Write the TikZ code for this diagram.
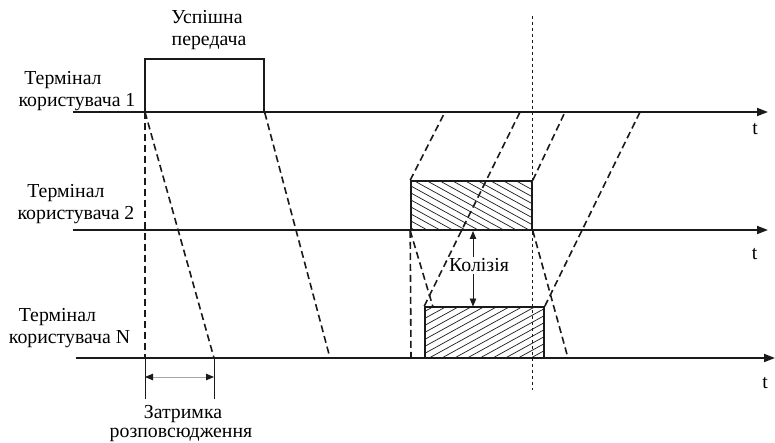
\documentclass[tikz,border=0pt]{standalone}
\usepackage{fontspec}
\setmainfont{Liberation Serif}
\usetikzlibrary{arrows.meta}
\definecolor{ink}{HTML}{1A1A1A}
\tikzset{ktip/.tip={Triangle[length=8pt,width=6.5pt,color=ink]}}
\begin{document}
\begin{tikzpicture}[x=1pt,y=-1pt,
  lbl/.style={font=\fontsize{19.8}{22}\selectfont, inner sep=0pt, anchor=base, text=black},
  axis/.style={draw=ink, line width=1.7pt, -{Triangle[length=11pt,width=8pt]}},
  wave/.style={draw=ink, line width=1.6pt, dash pattern=on 7pt off 4pt},
  frame/.style={draw=ink, line width=1.6pt, inner sep=0pt},
  hatch/.style={draw=ink, line width=0.7pt},
  thin/.style={draw=ink, line width=0.9pt},
  guide/.style={draw=ink, line width=0.7pt, dash pattern=on 3pt off 3pt}
]
\useasboundingbox (0,0) rectangle (775,443);

% axes
\coordinate (a1s) at (73,112);  \coordinate (a1e) at (768,112);
\coordinate (a2s) at (73,230);  \coordinate (a2e) at (768,230);
\coordinate (a3s) at (76,358);  \coordinate (a3e) at (775,358);
\draw[axis] (a1s) -- (a1e);
\draw[axis] (a2s) -- (a2e);
\draw[axis] (a3s) -- (a3e);

% hatching
\begin{scope}
  \clip (411,181) rectangle (532,230);
  \foreach \c in {-117,-110,...,10}
    \draw[hatch] (400,{\c+220}) -- (545,{\c+299.75});
\end{scope}
\begin{scope}
  \clip (425,307) rectangle (544,358);
  \foreach \c in {538,545,...,664}
    \draw[hatch] (415,{\c-228.25}) -- (555,{\c-305.25});
\end{scope}

% boxes
\node[frame, minimum width=119pt, minimum height=53pt] (succ) at (204.5,85.5) {};
\node[frame, minimum width=121pt, minimum height=49pt] (box2) at (471.5,205.5) {};
\node[frame, minimum width=119pt, minimum height=51pt] (boxN) at (484.5,332.5) {};

% coordinates for wave ends
\coordinate (s1) at (145,112);
\coordinate (p1) at (145,358);
\coordinate (p2) at (214,358);
\coordinate (p3) at (330,358);
\coordinate (q1) at (445,112);
\coordinate (q2) at (565,112);
\coordinate (q3) at (411,358);
\coordinate (q4) at (433,307);
\coordinate (q5) at (568,358);
\coordinate (r1) at (520,112);
\coordinate (r2) at (640,112);

\draw[wave] (s1) -- (p1);
\draw[wave] (s1) -- (p2);
\draw[wave] (succ.south east) -- (p3);
\draw[wave] (box2.north west) -- (q1);
\draw[wave] (box2.north east) -- (q2);
\draw[wave] (box2.south west) -- (q3);
\draw[wave] (box2.south west) -- (q4);
\draw[wave] (box2.south east) -- (q5);
\draw[wave] (boxN.north west) -- (r1);
\draw[wave] (boxN.north east) -- (r2);

% guide line
\coordinate (g1) at (532,16);
\coordinate (g2) at (532,390);
\draw[guide] (g1) -- (g2);

% propagation delay
\coordinate (d1) at (145,399);
\coordinate (d2) at (214,399);
\coordinate (e1) at (145,377);
\coordinate (e2) at (214,377);
\draw[thin] (p1) -- (d1);
\draw[thin] (p2) -- (d2);
\draw[draw=gray!70, line width=0.9pt, {ktip}-{ktip}] (e1) -- (e2);

% collision
\coordinate (k1) at (473,231);
\coordinate (k2) at (473,306.5);
\draw[thin, {ktip}-{ktip}] (k1) -- (k2);
\node[lbl, fill=white, inner sep=1.5pt] (kol) at (479,272) {Колізія};

% labels
\node[lbl] (u1) at (207,24) {Успішна};
\node[lbl] (u2) at (209,46) {передача};
\node[lbl] (t1a) at (63,85) {Термінал};
\node[lbl] (t1b) at (77,107) {користувача 1};
\node[lbl] (t2a) at (66,198) {Термінал};
\node[lbl] (t2b) at (76,220) {користувача 2};
\node[lbl] (t3a) at (57.5,321) {Термінал};
\node[lbl] (t3b) at (69.5,343) {користувача N};
\node[lbl] (x1) at (755,135) {t};
\node[lbl] (x2) at (754.5,260) {t};
\node[lbl] (x3) at (765,388) {t};
\node[lbl] (z1) at (183,418) {Затримка};
\node[lbl] (z2) at (181,437) {розповсюдження};
\end{tikzpicture}
\end{document}
